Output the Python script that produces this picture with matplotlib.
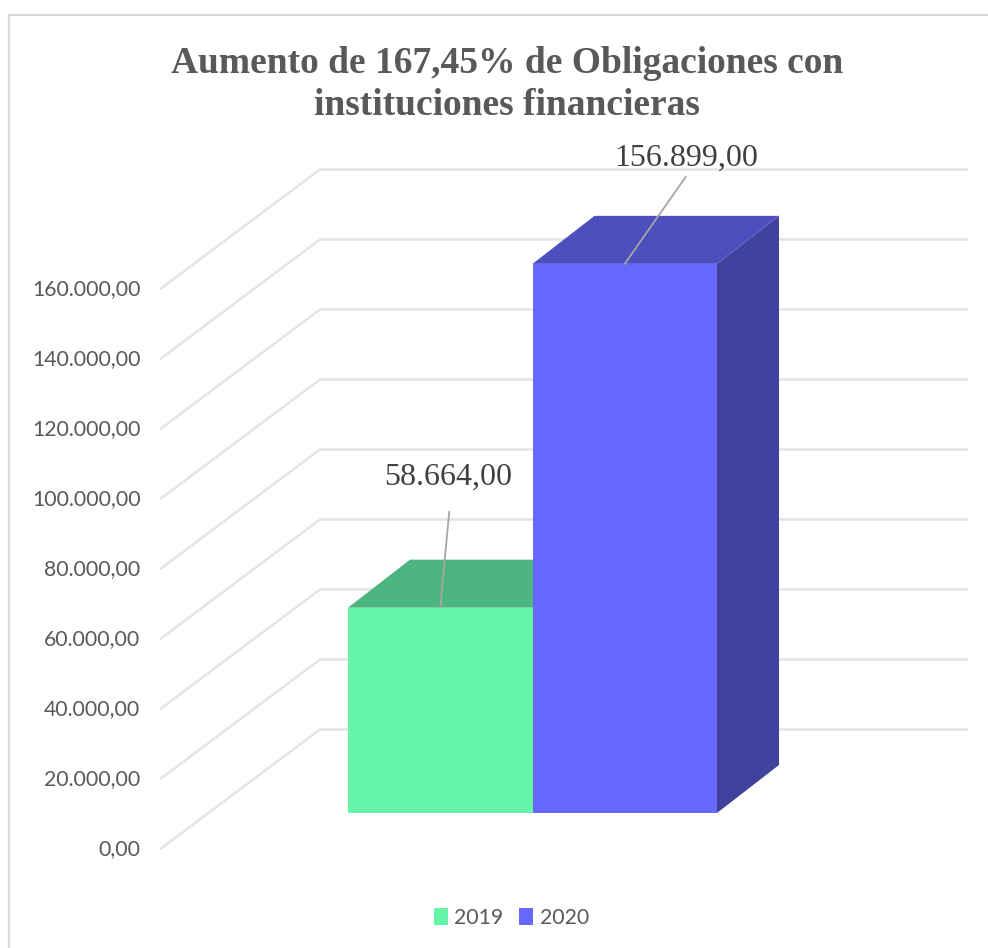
import matplotlib
matplotlib.use('Agg')
import matplotlib.pyplot as plt
from matplotlib.patches import Polygon, Patch

# Data
years = ['2019', '2020']
values = [58664, 156899]
value_labels = ['58.664,00', '156.899,00']
grid_values = [0, 20000, 40000, 60000, 80000, 100000, 120000, 140000, 160000]
grid_labels = ['0,00', '20.000,00', '40.000,00', '60.000,00', '80.000,00',
               '100.000,00', '120.000,00', '140.000,00', '160.000,00']
title = 'Aumento de 167,45% de Obligaciones con\ninstituciones financieras'

# Colours (front, top, side)
front_cols = ['#66f5a8', '#6868ff']
top_cols = ['#4db57f', '#4e4fbf']
side_cols = ['#3c8a60', '#40429e']
grid_col = '#e4e4e4'
text_col = '#595959'

W, H = 988, 948
k = 70.0 / 20000      # pixels per unit of value
bar_w = 184.5         # pixels per category
x0, y0 = 348, 813     # where the first bar starts


def wx(px):
    return (px - x0) / bar_w


def wv(py):
    return (y0 - py) / k


fig = plt.figure(figsize=(W / 100, H / 100), dpi=100)
ax = fig.add_axes([0, 0, 1, 1])
ax.set_xlim(wx(0), wx(W))
ax.set_ylim(wv(H), wv(0))
ax.axis('off')

# chart frame
ax.plot([wx(9), wx(9), wx(988)], [wv(H), wv(15), wv(15)], color='#d9d9d9', lw=1.6, zorder=0)

# walls and gridlines
front_off = wv(848.5)
back_off = wv(729.5)
label_off = wv(849.5)
for g, lab in zip(grid_values, grid_labels):
    ax.plot([wx(161), wx(320), wx(967)],
            [g + front_off, g + back_off, g + back_off],
            color=grid_col, lw=1.8, zorder=1, solid_joinstyle='miter')
    ax.text(wx(140.5), g + label_off, lab, ha='right', va='center',
            fontsize=15.3, family='Lato', color=text_col)

# 3D bars
dx = 62 / bar_w
dv = 48 / k
for i, v in enumerate(values):
    ax.add_patch(Polygon([(i + 1, 0), (i + 1 + dx, dv), (i + 1 + dx, v + dv), (i + 1, v)],
                         fc=side_cols[i], ec='none', zorder=2 + i))
    ax.add_patch(Polygon([(i, v), (i + dx, v + dv), (i + 1 + dx, v + dv), (i + 1, v)],
                         fc=top_cols[i], ec='none', zorder=2 + i))
    ax.add_patch(Polygon([(i, 0), (i + 1, 0), (i + 1, v), (i, v)],
                         fc=front_cols[i], ec='none', zorder=2 + i))

# data labels with leader lines
leader_offsets = [(9, 96), (61, 87)]
label_offsets = [(8, 130), (61, 106)]
for i, v in enumerate(values):
    ax.annotate('', xy=(i + 0.5, v), xytext=leader_offsets[i], textcoords='offset pixels',
                arrowprops=dict(arrowstyle='-', color='#a6a6a6', lw=1.3, shrinkA=0, shrinkB=0),
                zorder=5)
    ax.annotate(value_labels[i], xy=(i + 0.5, v), xytext=label_offsets[i],
                textcoords='offset pixels', ha='center', va='center',
                fontsize=23, family='Liberation Serif', color='#404040', zorder=6)

# title
ax.text(wx(507), wv(84.5), title, ha='center', va='center', fontsize=27, fontweight='bold',
        family='Liberation Serif', color=text_col, linespacing=1.28)

# legend
handles = [Patch(fc=front_cols[0], ec='none'), Patch(fc=front_cols[1], ec='none')]
ax.legend(handles, years, loc='center', bbox_to_anchor=(511.5 / W, 1 - 918 / H), ncol=2, frameon=False,
          prop={'family': 'Lato', 'size': 15.3}, labelcolor=text_col,
          handlelength=0.65, handleheight=0.8, handletextpad=0.3, columnspacing=0.75)

fig.savefig('out.png', dpi=100)
